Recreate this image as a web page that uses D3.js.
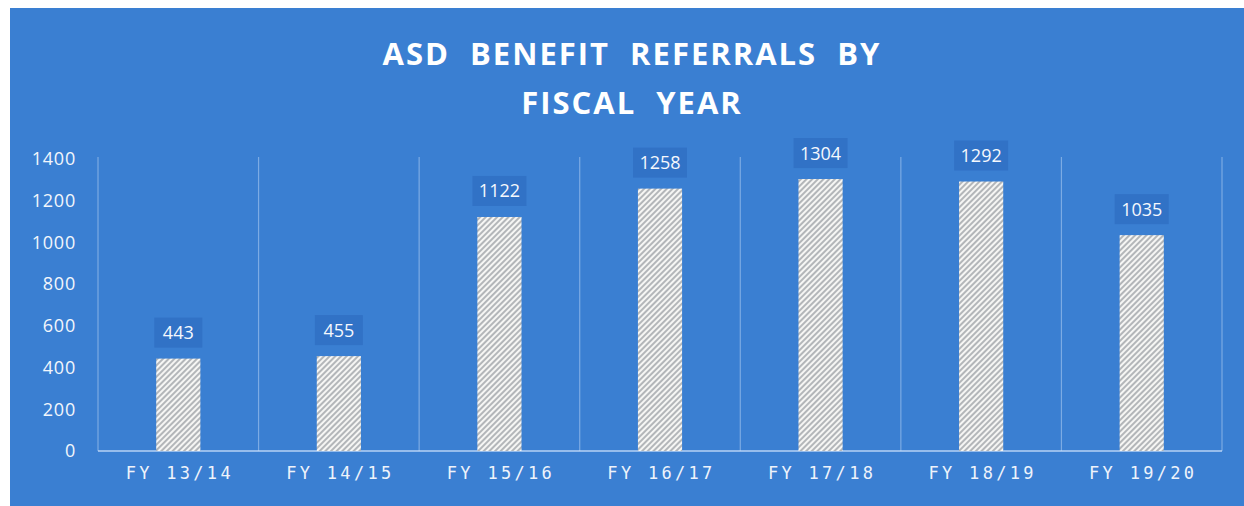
<!DOCTYPE html>
<html>
<head>
<meta charset="utf-8">
<script src="https://cdn.jsdelivr.net/npm/d3@7"></script>
<style>
  html, body { margin: 0; padding: 0; background: #ffffff; }
  svg { display: block; }
</style>
</head>
<body>
<svg id="chart" width="1244" height="506"></svg>
<script>
// Referrals per fiscal year
const categories = ["FY 13/14", "FY 14/15", "FY 15/16", "FY 16/17", "FY 17/18", "FY 18/19", "FY 19/20"];
const referrals = [443, 455, 1122, 1258, 1304, 1292, 1035];
const yTicks = [0, 200, 400, 600, 800, 1000, 1200, 1400];
const titleLines = ["ASD BENEFIT REFERRALS BY", "FISCAL YEAR"];

const svg = d3.select("#chart");
const W = 1244, H = 506;
const panel = { x: 10, y: 8 };
const plot = { left: 98, right: 1222, top: 159, bottom: 451 };

// Blue panel
svg.append("rect")
  .attr("x", panel.x).attr("y", panel.y)
  .attr("width", W - panel.x).attr("height", H - panel.y)
  .attr("fill", "#3a7fd2");

// Hatch pattern for the bars
const defs = svg.append("defs");
const pat = defs.append("pattern")
  .attr("id", "hatch")
  .attr("patternUnits", "userSpaceOnUse")
  .attr("width", 4).attr("height", 4)
  .attr("patternTransform", "rotate(45)");
pat.append("rect").attr("width", 4).attr("height", 4).attr("fill", "#f6f6f4");
pat.append("line")
  .attr("x1", 1).attr("y1", 0).attr("x2", 1).attr("y2", 4)
  .attr("stroke", "#7c8189").attr("stroke-width", 1.1);

const x = d3.scaleBand()
  .domain(categories)
  .range([plot.left, plot.right])
  .paddingInner(0.725)
  .paddingOuter(0.3625);

const y = d3.scaleLinear()
  .domain([0, 1400])
  .range([plot.bottom, plot.top]);

const gap = (x.step() - x.bandwidth()) / 2;

// Vertical gridlines at category boundaries
const bounds = categories.map(c => x(c) - gap).concat([x(categories[categories.length - 1]) + x.bandwidth() + gap]);
svg.append("g").selectAll("line")
  .data(bounds)
  .join("line")
  .attr("x1", d => d).attr("x2", d => d)
  .attr("y1", plot.top - 2).attr("y2", plot.bottom)
  .attr("stroke", "rgba(190,215,245,0.5)")
  .attr("stroke-width", 1.2);

// Baseline
svg.append("line")
  .attr("x1", plot.left).attr("x2", plot.right)
  .attr("y1", y(0)).attr("y2", y(0))
  .attr("stroke", "rgba(205,225,250,0.85)")
  .attr("stroke-width", 1.6);

// Y axis labels
const yAxis = d3.axisLeft(y).tickValues(yTicks).tickFormat(d3.format("d")).tickSize(0).tickPadding(0);
const yg = svg.append("g")
  .attr("transform", `translate(76,0)`)
  .call(yAxis);
yg.select(".domain").remove();
yg.selectAll("text")
  .attr("fill", "#f2f6fc")
  .attr("font-family", "'Open Sans', sans-serif")
  .attr("font-size", 18)
  .attr("letter-spacing", 0.8);

// X axis labels
const xAxis = d3.axisBottom(x).tickSize(0).tickPadding(0);
const xg = svg.append("g")
  .attr("transform", `translate(1.5,${plot.bottom + 14})`)
  .call(xAxis);
xg.select(".domain").remove();
xg.selectAll("text")
  .attr("fill", "#eef3fb")
  .attr("font-family", "'DejaVu Sans Mono', monospace")
  .attr("font-size", 17)
  .attr("letter-spacing", 3.3)
  .attr("dy", "0.85em");

// Bars
svg.append("g").selectAll("rect")
  .data(referrals)
  .join("rect")
  .attr("x", (d, i) => x(categories[i]))
  .attr("y", d => y(d))
  .attr("width", x.bandwidth())
  .attr("height", d => y(0) - y(d))
  .attr("fill", "url(#hatch)");

// Value labels with darker boxes
const lab = svg.append("g").selectAll("g")
  .data(referrals)
  .join("g")
  .attr("transform", (d, i) => `translate(${x(categories[i]) + x.bandwidth() / 2},${y(d) - 26})`);
lab.append("rect")
  .attr("x", d => String(d).length > 3 ? -27 : -24)
  .attr("y", -15)
  .attr("width", d => String(d).length > 3 ? 54 : 48)
  .attr("height", 30)
  .attr("fill", "#2f6dc2")
  .attr("opacity", 0.75);
lab.append("text")
  .attr("text-anchor", "middle")
  .attr("dy", "0.36em")
  .attr("fill", "#f5f8fd")
  .attr("font-family", "'Open Sans', sans-serif")
  .attr("font-size", 18)
  .text(d => d);

// Title
svg.append("g").selectAll("text")
  .data(titleLines)
  .join("text")
  .attr("x", 632)
  .attr("y", (d, i) => 65 + i * 49)
  .attr("text-anchor", "middle")
  .attr("fill", "#ffffff")
  .attr("font-family", "'Open Sans', sans-serif")
  .attr("font-weight", 700)
  .attr("font-size", 31)
  .attr("letter-spacing", 2)
  .attr("word-spacing", 10)
  .text(d => d);
</script>
</body>
</html>
